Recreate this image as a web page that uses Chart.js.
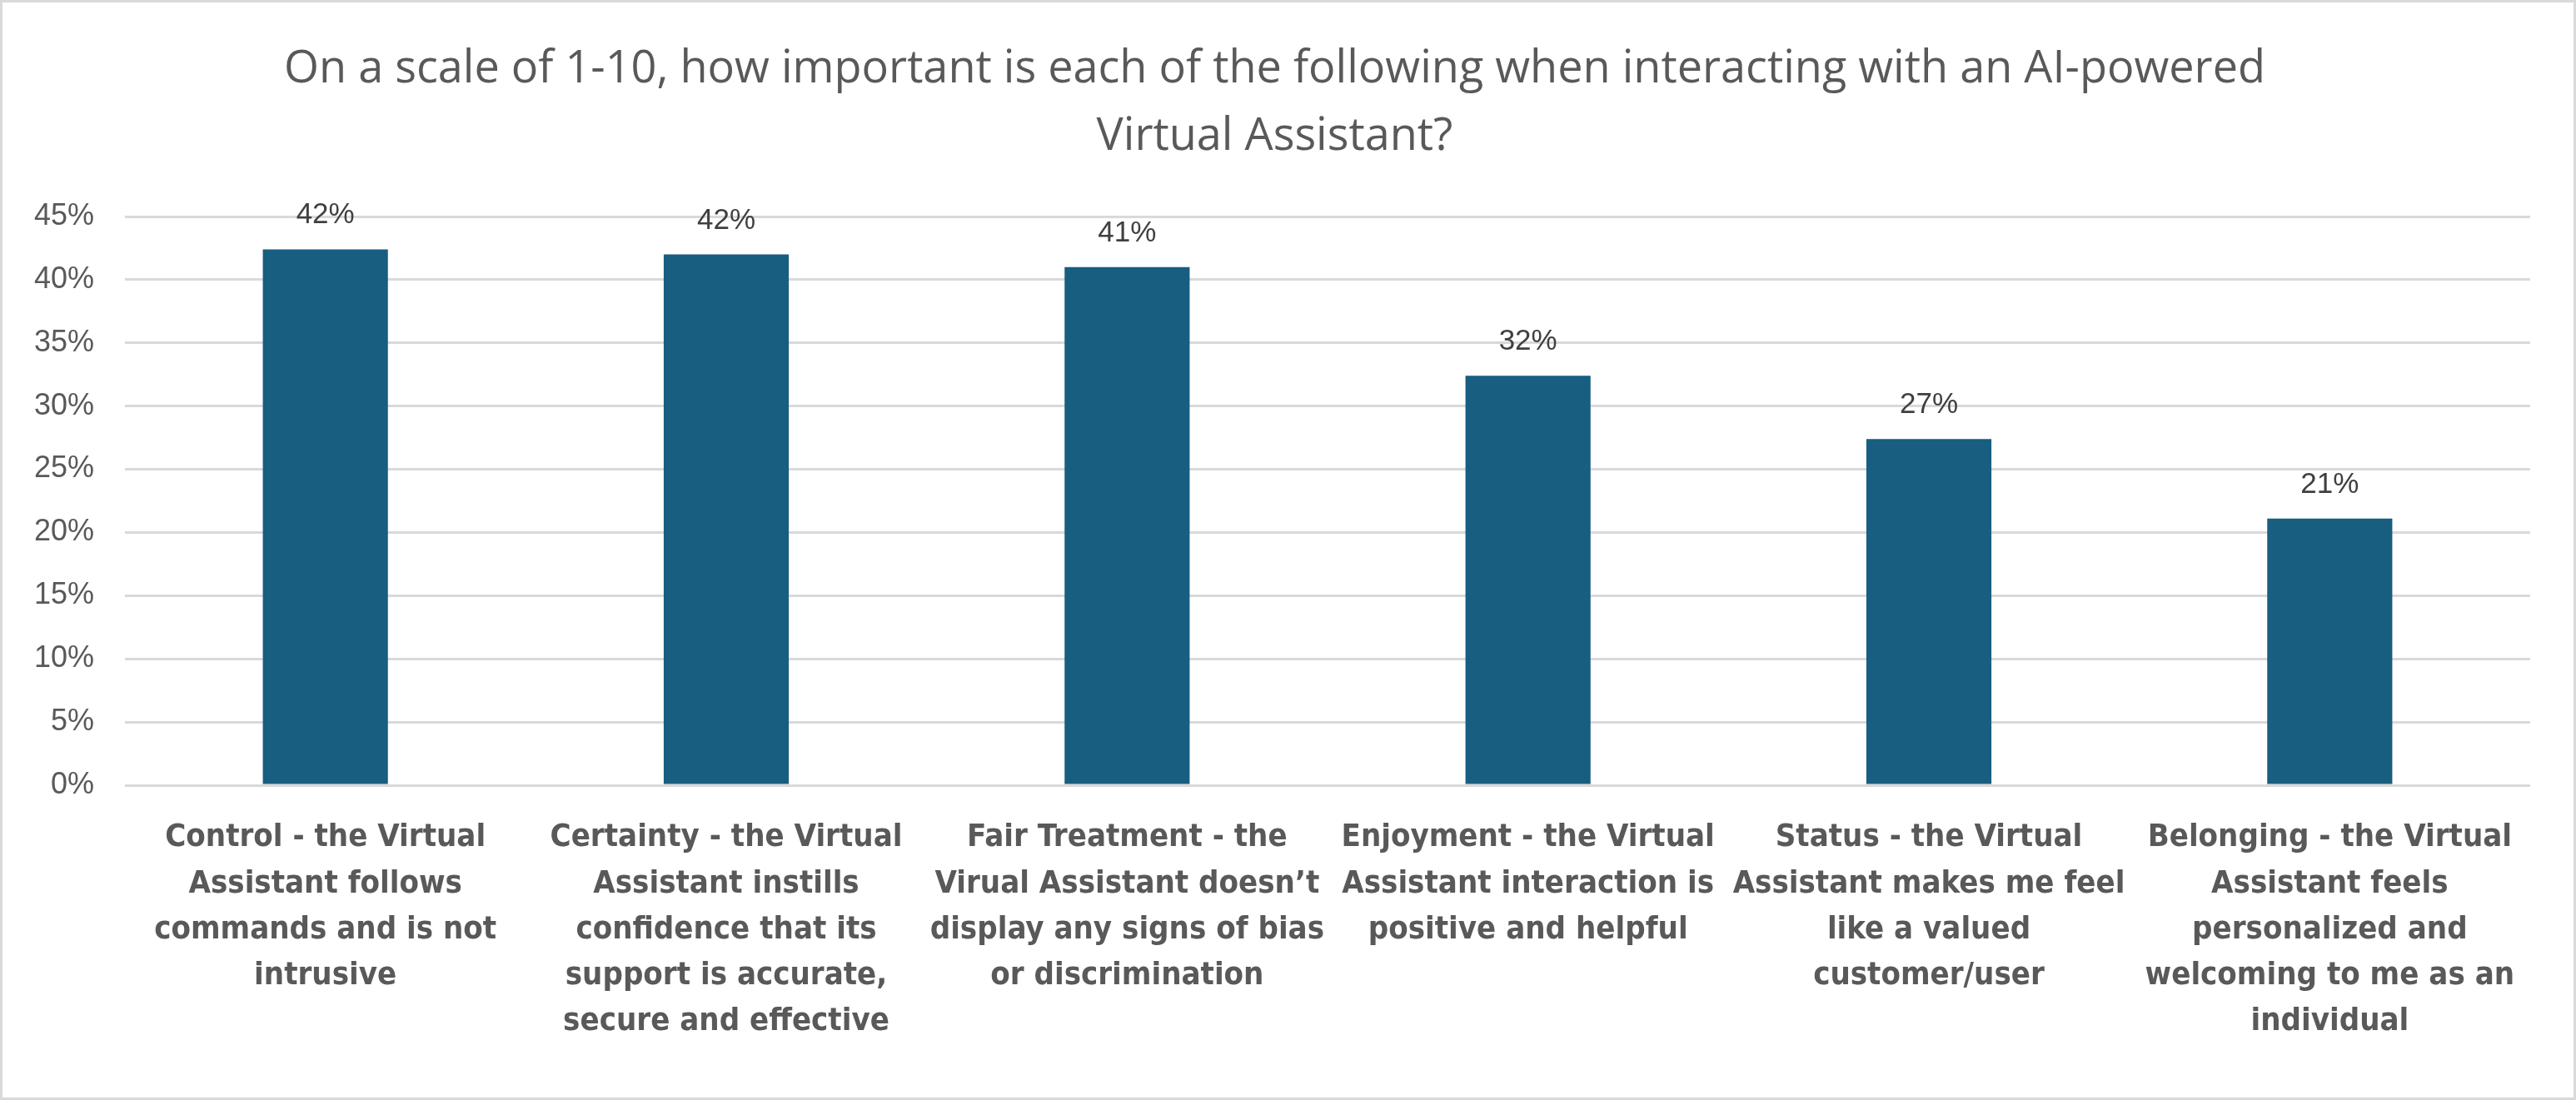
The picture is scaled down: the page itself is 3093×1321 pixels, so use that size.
<!DOCTYPE html>
<html>
<head>
<meta charset="utf-8">
<script src="https://cdn.jsdelivr.net/npm/chart.js@4.4.1/dist/chart.umd.min.js"></script>
<style>
    html, body { margin: 0; padding: 0; background: #fff; }
    #wrap { width: 3093px; height: 1321px; box-sizing: border-box; border: 3px solid #d9d9d9; }
    canvas { display: block; }
</style>
</head>
<body>
<div id="wrap"><canvas id="myChart" width="3087" height="1315"></canvas></div>
<script>
    // survey answers, share of respondents
    let categories = [
        ["Control - the Virtual", "Assistant follows", "commands and is not", "intrusive"],
        ["Certainty - the Virtual", "Assistant instills", "confidence that its", "support is accurate,", "secure and effective"],
        ["Fair Treatment - the", "Virual Assistant doesn\u2019t", "display any signs of bias", "or discrimination"],
        ["Enjoyment - the Virtual", "Assistant interaction is", "positive and helpful"],
        ["Status - the Virtual", "Assistant makes me feel", "like a valued", "customer/user"],
        ["Belonging - the Virtual", "Assistant feels", "personalized and", "welcoming to me as an", "individual"]
    ];
    let values = [0.424, 0.420, 0.410, 0.324, 0.274, 0.211];
    let yTicks = [0, 0.05, 0.10, 0.15, 0.20, 0.25, 0.30, 0.35, 0.40, 0.45];
    let titleLines = [
        "On a scale of 1-10, how important is each of the following when interacting with an AI-powered",
        "Virtual Assistant?"
    ];

    const barLabels = {
        id: 'barLabels',
        afterDatasetsDraw(chart) {
            let ctx = chart.ctx;
            let meta = chart.getDatasetMeta(0);
            ctx.save();
            ctx.font = '35px "Liberation Sans", Arial, sans-serif';
            ctx.fillStyle = '#404040';
            ctx.textAlign = 'center';
            ctx.textBaseline = 'alphabetic';
            for (let i = 0; i < meta.data.length; i++) {
                let bar = meta.data[i];
                ctx.fillText(Math.round(values[i] * 100) + '%', bar.x, bar.y - 31);
            }
            ctx.restore();
        }
    };

    let ctx = document.getElementById('myChart').getContext('2d');
    let myChart = new Chart(ctx, {
        type: 'bar',
        data: {
            labels: categories,
            datasets: [{
                data: values,
                backgroundColor: '#175e81',
                borderWidth: 0,
                barPercentage: 0.312,
                categoryPercentage: 1
            }]
        },
        plugins: [barLabels],
        options: {
            responsive: false,
            animation: false,
            layout: {
                padding: { left: 20, right: 52, top: 0, bottom: 20 }
            },
            plugins: {
                legend: { display: false },
                tooltip: { enabled: false },
                title: {
                    display: true,
                    text: titleLines,
                    color: '#595959',
                    font: { family: '"Open Sans", sans-serif', size: 54, weight: 'normal', lineHeight: 1.5 },
                    padding: { top: 40, bottom: 55 }
                }
            },
            scales: {
                x: {
                    grid: { display: false, drawTicks: false },
                    border: { display: false },
                    ticks: {
                        color: '#595959',
                        font: { family: '"Liberation Sans Narrow", "DejaVu Sans Condensed", sans-serif', size: 38, weight: 'bold', lineHeight: 1.45 },
                        maxRotation: 0,
                        autoSkip: false,
                        padding: 36
                    },
                    afterFit: function (scale) {
                        scale.height = 355;
                    }
                },
                y: {
                    min: 0,
                    max: 0.45,
                    afterBuildTicks: function (scale) {
                        scale.ticks = yTicks.map(v => ({ value: v }));
                    },
                    grid: { color: '#d9d9d9', lineWidth: 3, drawTicks: false },
                    border: { display: false },
                    ticks: {
                        color: '#595959',
                        font: { family: '"Liberation Sans", Arial, sans-serif', size: 36 },
                        padding: 37,
                        callback: function (v) {
                            return Math.round(v * 100) + '%';
                        }
                    },
                    afterFit: function (scale) {
                        scale.width = 127;
                    }
                }
            }
        }
    });
</script>
</body>
</html>
